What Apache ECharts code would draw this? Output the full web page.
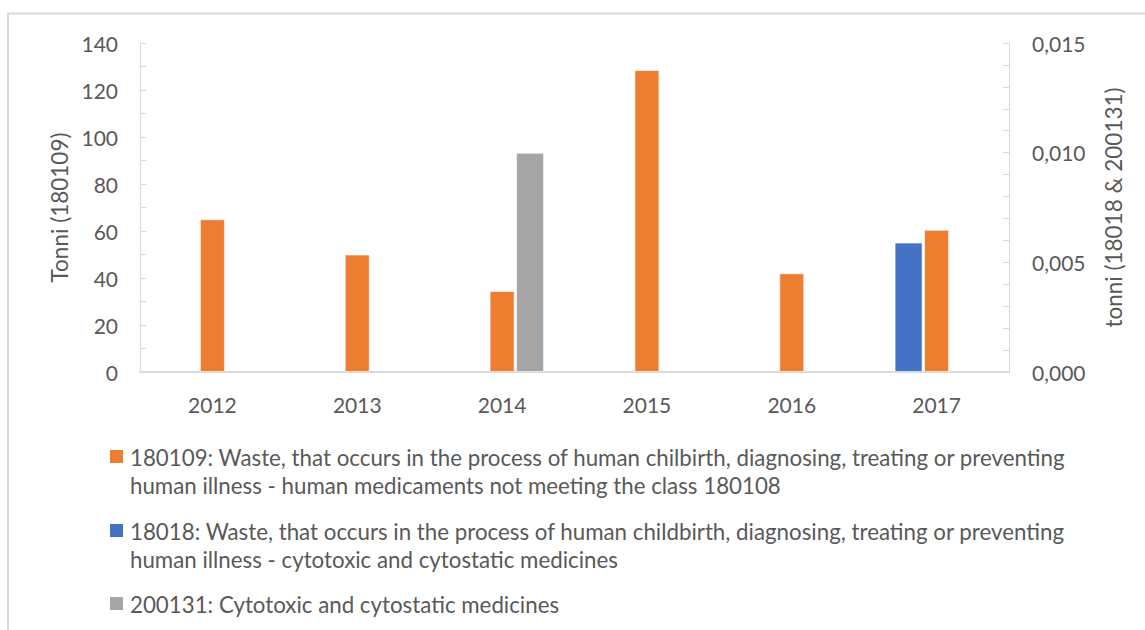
<!DOCTYPE html>
<html>
<head>
<meta charset="utf-8">
<style>
  html, body { margin: 0; padding: 0; background: #fff; }
  #chart { width: 1145px; height: 630px; }
</style>
<script src="https://cdn.jsdelivr.net/npm/echarts@6/dist/echarts.min.js"></script>
</head>
<body>
<div id="chart"></div>
<script>
var years = ['2012', '2013', '2014', '2015', '2016', '2017'];
var waste180109 = [65, 50, 34.5, 128.5, 42, 60.5];
var waste18018 = [null, null, null, null, null, 0.0059];
var waste200131 = [null, null, 0.0100, null, null, null];
var legendNames = [
  '180109: Waste, that occurs in the process of human chilbirth, diagnosing, treating or preventing\nhuman illness - human medicaments not meeting the class 180108',
  '18018: Waste, that occurs in the process of human childbirth, diagnosing, treating or preventing\nhuman illness - cytotoxic and cytostatic medicines',
  '200131: Cytotoxic and cytostatic medicines'
];
var legendColors = ['#ED7D31', '#4472C4', '#A5A5A5'];
var legendTops = [443, 517, 590];

var font = 'Lato, "Open Sans", sans-serif';
var txt = '#595959';
var rule = '#d9d9d9';

var chart = echarts.init(document.getElementById('chart'), null, { renderer: 'svg' });

// chart frame (only top and left edges are visible in the crop)
var graphics = [{
  type: 'polyline',
  shape: { points: [[8, 640], [8, 13.5], [1150, 13.5]] },
  style: { stroke: rule, lineWidth: 2, fill: null }
}];
legendNames.forEach(function(name, i) {
  graphics.push({
    type: 'rect',
    shape: { x: 110, y: legendTops[i] + 7, width: 13, height: 13 },
    style: { fill: legendColors[i] }
  });
  graphics.push({
    type: 'text',
    x: 130, y: legendTops[i],
    style: { text: name, fill: txt, font: '22.3px ' + font, lineHeight: 28 }
  });
});

var tickStyle = { show: true, inside: true, length: 6, lineStyle: { color: rule } };

chart.setOption({
  animation: false,
  textStyle: { fontFamily: font },
  grid: { left: 140, right: 136, top: 43, bottom: 258 },
  xAxis: [
    {
      type: 'category',
      data: years,
      axisLine: { lineStyle: { color: rule, width: 2 } },
      axisTick: { show: false },
      axisLabel: { color: txt, fontSize: 21, margin: 22 }
    },
    {
      type: 'category',
      data: years,
      show: false
    }
  ],
  yAxis: [
    {
      type: 'value',
      min: 0, max: 140, interval: 20,
      name: 'Tonni (180109)',
      nameLocation: 'middle',
      nameGap: 69,
      nameTextStyle: { color: txt, fontSize: 22.5 },
      axisLine: { show: true, lineStyle: { color: rule } },
      axisTick: tickStyle,
      minorTick: { show: true, splitNumber: 2, length: 6, lineStyle: { color: rule } },
      splitLine: { show: false },
      axisLabel: { color: txt, fontSize: 21, margin: 22 }
    },
    {
      type: 'value',
      min: 0, max: 0.015, interval: 0.005,
      name: 'tonni (18018 & 200131)',
      nameLocation: 'middle',
      nameGap: 93,
      nameRotate: 90,
      nameTextStyle: { color: txt, fontSize: 22.5 },
      axisLine: { show: true, lineStyle: { color: rule } },
      axisTick: tickStyle,
      minorTick: { show: true, splitNumber: 5, length: 6, lineStyle: { color: rule } },
      splitLine: { show: false },
      axisLabel: {
        color: txt, fontSize: 21, margin: 23,
        formatter: function(v) { return v.toFixed(3).replace('.', ','); }
      }
    }
  ],
  series: [
    {
      name: legendNames[0],
      type: 'bar',
      xAxisIndex: 0, yAxisIndex: 0,
      barWidth: 25,
      data: waste180109,
      itemStyle: { color: legendColors[0], borderColor: 'rgba(255,255,255,0.6)', borderWidth: 1 }
    },
    {
      name: legendNames[1],
      type: 'bar',
      xAxisIndex: 1, yAxisIndex: 1,
      barWidth: 28,
      barGap: '100%',
      data: waste18018,
      itemStyle: { color: legendColors[1], borderColor: 'rgba(255,255,255,0.6)', borderWidth: 1 }
    },
    {
      name: legendNames[2],
      type: 'bar',
      xAxisIndex: 1, yAxisIndex: 1,
      barWidth: 28,
      barGap: '100%',
      data: waste200131,
      itemStyle: { color: legendColors[2], borderColor: 'rgba(255,255,255,0.6)', borderWidth: 1 }
    }
  ],
  graphic: graphics
});
</script>
</body>
</html>
